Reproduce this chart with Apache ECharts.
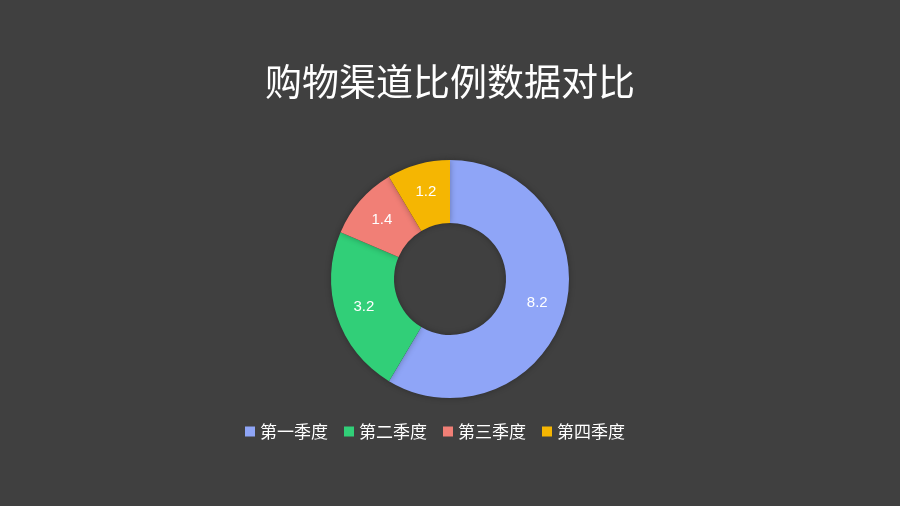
<!DOCTYPE html>
<html lang="zh">
<head>
<meta charset="UTF-8">
<title>购物渠道比例数据对比</title>
<script src="https://cdn.jsdelivr.net/npm/echarts@6/dist/echarts.min.js"></script>
<style>
html,body{margin:0;padding:0;background:#404040;}
#main{width:900px;height:506px;}
</style>
</head>
<body>
<div id="main"></div>
<script type="text/javascript">
var titleText = '购物渠道比例数据对比';
var categories = ['第一季度', '第二季度', '第三季度', '第四季度'];
var values = [8.2, 3.2, 1.4, 1.2];
var colors = ['#8fa5f7', '#31cf78', '#f17f76', '#f5b602'];

var myChart = echarts.init(document.getElementById('main'));
var pieData = [];
for (var i = 0; i < categories.length; i++) {
    pieData.push({name: categories[i], value: values[i]});
}

myChart.setOption({
    backgroundColor: '#404040',
    animation: false,
    color: colors,
    title: {
        text: titleText,
        left: 'center',
        top: 58,
        textStyle: {
            color: '#ffffff',
            fontSize: 37,
            fontWeight: 'normal',
            fontFamily: 'Noto Sans CJK SC'
        }
    },
    legend: {
        top: 418,
        left: 240,
        itemWidth: 10,
        itemHeight: 10,
        itemGap: 16,
        icon: 'rect',
        textStyle: {
            color: '#ffffff',
            fontSize: 17,
            fontFamily: 'Noto Sans CJK SC'
        },
        data: categories
    },
    series: [
        {
            type: 'pie',
            center: [450, 279],
            radius: [56, 119],
            startAngle: 90,
            clockwise: true,
            data: pieData,
            itemStyle: {
                shadowBlur: 6,
                shadowColor: 'rgba(0,0,0,0.3)'
            },
            label: {
                position: 'inside',
                color: '#ffffff',
                fontSize: 15,
                fontFamily: 'Liberation Sans',
                formatter: '{c}'
            },
            labelLine: {show: false}
        }
    ]
});
</script>
</body>
</html>
